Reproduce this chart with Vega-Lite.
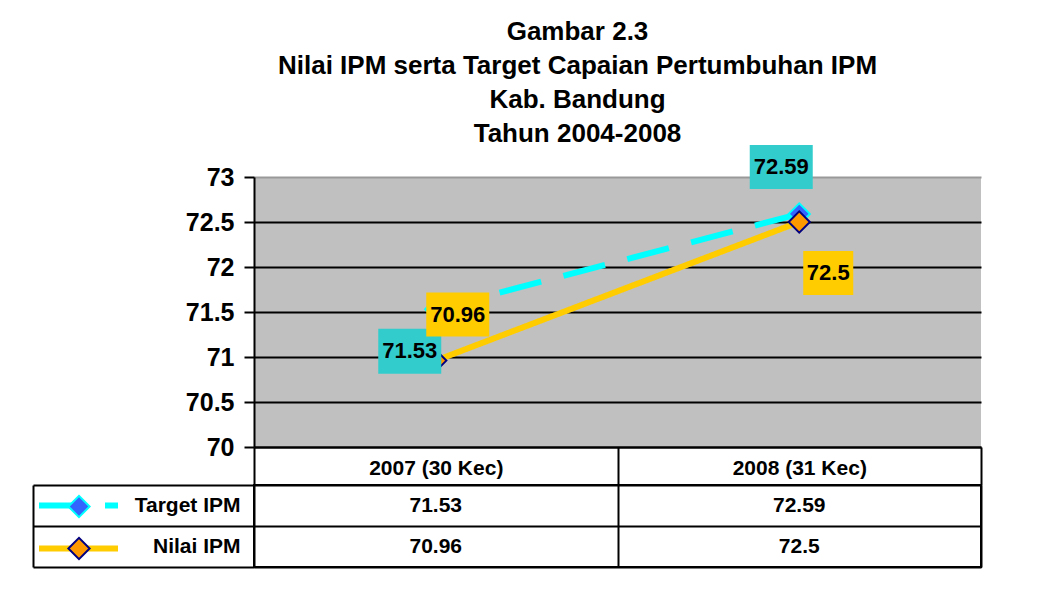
{
  "$schema": "https://vega.github.io/schema/vega-lite/v6.json",
  "background": "white",
  "autosize": {"type": "pad"},
  "padding": {"left": 31, "top": 18, "right": 5, "bottom": 5},
  "config": {"font": "Liberation Sans"},
  "title": {
    "text": ["Gambar 2.3", "Nilai IPM serta Target Capaian Pertumbuhan IPM", "Kab. Bandung", "Tahun 2004-2008"],
    "font": "Liberation Sans", "fontSize": 26, "fontWeight": "bold", "lineHeight": 34,
    "color": "black", "anchor": "middle", "frame": "group", "dx": -40, "offset": -2
  },
  "datasets": {
    "ipm": [
      {"tahun": "2007 (30 Kec)", "series": "Target IPM", "nilai": 71.53},
      {"tahun": "2008 (31 Kec)", "series": "Target IPM", "nilai": 72.59},
      {"tahun": "2007 (30 Kec)", "series": "Nilai IPM", "nilai": 70.96},
      {"tahun": "2008 (31 Kec)", "series": "Nilai IPM", "nilai": 72.5}
    ]
  },
  "bounds": "flush",
  "spacing": 38,
  "vconcat": [
    {
      "width": 727, "height": 270,
      "data": {"name": "ipm"},
      "view": {"fill": "#C0C0C0", "stroke": null},
      "encoding": {
        "x": {
          "field": "tahun", "type": "nominal",
          "scale": {"type": "band", "paddingInner": 0, "paddingOuter": 0},
          "axis": {
            "orient": "bottom", "title": null, "grid": false,
            "domain": true, "domainColor": "black", "domainWidth": 2,
            "ticks": true, "tickBand": "extent", "tickSize": 38, "tickColor": "black", "tickWidth": 2,
            "labelFont": "Liberation Sans", "labelFontSize": 21, "labelFontWeight": "bold", "labelColor": "black",
            "labelAngle": 0, "labelPadding": -17, "labelBaseline": "middle", "labelFlush": false
          }
        },
        "y": {
          "field": "nilai", "type": "quantitative",
          "scale": {"domain": [70, 73], "zero": false, "nice": false},
          "axis": {
            "title": null, "values": [70, 70.5, 71, 71.5, 72, 72.5, 73], "format": "~g",
            "grid": true, "gridWidth": 2, "gridOpacity": 1,
            "gridColor": {"condition": {"test": "datum.value === 73", "value": "#999999"}, "value": "black"},
            "domainColor": "black", "domainWidth": 2,
            "tickColor": "black", "tickWidth": 2, "tickSize": 10,
            "labelFont": "Liberation Sans", "labelFontSize": 25, "labelFontWeight": "bold", "labelColor": "black",
            "labelPadding": 10, "labelFlush": false
          }
        }
      },
      "layer": [
        {
          "mark": {"type": "line", "strokeWidth": 6},
          "encoding": {
            "color": {
              "field": "series", "type": "nominal",
              "scale": {"domain": ["Target IPM", "Nilai IPM"], "range": ["#00FFFF", "#FFCC00"]},
              "legend": {
                "orient": "none", "legendX": -183.5, "legendY": 320.5, "title": null, "padding": 0,
                "symbolType": "M-7.9,0H7.9", "symbolSize": 100, "symbolStrokeWidth": 6,
                "symbolFillColor": "transparent",
                "labelExpr": "''", "labelFontSize": 8, "rowPadding": 19
              }
            },
            "strokeDash": {
              "field": "series", "type": "nominal",
              "scale": {"domain": ["Target IPM", "Nilai IPM"], "range": [[43, 23], [1, 0]]},
              "legend": {
                "orient": "none", "legendX": -183.5, "legendY": 320.5, "title": null, "padding": 0,
                "symbolType": "M-7.9,0H7.9", "symbolSize": 100, "symbolStrokeWidth": 6,
                "labelExpr": "''", "labelFontSize": 8, "rowPadding": 19
              }
            }
          }
        },
        {
          "mark": {"type": "point", "shape": "diamond", "filled": true, "size": 450, "strokeWidth": 2, "opacity": 1},
          "encoding": {
            "fill": {
              "field": "series", "type": "nominal", "sort": "descending",
              "scale": {"range": ["#3366FF", "#FF9900"]},
              "legend": {
                "orient": "none", "legendX": -187, "legendY": 317.5, "title": null, "padding": 0,
                "symbolType": "diamond", "symbolSize": 450, "symbolStrokeWidth": 2, "symbolOpacity": 1,
                "labelExpr": "''", "labelFontSize": 8, "rowPadding": 12
              }
            },
            "stroke": {
              "field": "series", "type": "nominal", "sort": "descending",
              "scale": {"range": ["#00FFFF", "#000080"]},
              "legend": {
                "orient": "none", "legendX": -187, "legendY": 317.5, "title": null, "padding": 0,
                "symbolType": "diamond", "symbolSize": 450, "symbolStrokeWidth": 2, "symbolOpacity": 1,
                "labelExpr": "''", "labelFontSize": 8, "rowPadding": 12
              }
            }
          }
        },
        {
          "transform": [{"filter": "datum.series === 'Target IPM' && datum.tahun === '2007 (30 Kec)'"}],
          "layer": [
            {"mark": {"type": "point", "shape": "M-1,-0.714H1V0.714H-1Z", "size": 3969, "filled": true, "fill": "#33CCCC", "strokeWidth": 0, "opacity": 1, "xOffset": -26, "yOffset": 42}},
            {"mark": {"type": "text", "fontSize": 22, "fontWeight": "bold", "color": "black", "align": "center", "baseline": "middle", "xOffset": -26, "yOffset": 42}, "encoding": {"text": {"field": "nilai", "type": "quantitative"}}}
          ]
        },
        {
          "transform": [{"filter": "datum.series === 'Target IPM' && datum.tahun === '2008 (31 Kec)'"}],
          "layer": [
            {"mark": {"type": "point", "shape": "M-1,-0.698H1V0.698H-1Z", "size": 3969, "filled": true, "fill": "#33CCCC", "strokeWidth": 0, "opacity": 1, "xOffset": -18, "yOffset": -47}},
            {"mark": {"type": "text", "fontSize": 22, "fontWeight": "bold", "color": "black", "align": "center", "baseline": "middle", "xOffset": -18, "yOffset": -47}, "encoding": {"text": {"field": "nilai", "type": "quantitative"}}}
          ]
        },
        {
          "transform": [{"filter": "datum.series === 'Nilai IPM' && datum.tahun === '2007 (30 Kec)'"}],
          "layer": [
            {"mark": {"type": "point", "shape": "M-1,-0.698H1V0.698H-1Z", "size": 3969, "filled": true, "fill": "#FFCC00", "strokeWidth": 0, "opacity": 1, "xOffset": 22, "yOffset": -46}},
            {"mark": {"type": "text", "fontSize": 22, "fontWeight": "bold", "color": "black", "align": "center", "baseline": "middle", "xOffset": 22, "yOffset": -46}, "encoding": {"text": {"field": "nilai", "type": "quantitative"}}}
          ]
        },
        {
          "transform": [{"filter": "datum.series === 'Nilai IPM' && datum.tahun === '2008 (31 Kec)'"}],
          "layer": [
            {"mark": {"type": "point", "shape": "M-1,-0.88H1V0.88H-1Z", "size": 2500, "filled": true, "fill": "#FFCC00", "strokeWidth": 0, "opacity": 1, "xOffset": 29, "yOffset": 51}},
            {"mark": {"type": "text", "fontSize": 22, "fontWeight": "bold", "color": "black", "align": "center", "baseline": "middle", "xOffset": 29, "yOffset": 51}, "encoding": {"text": {"field": "nilai", "type": "quantitative"}}}
          ]
        }
      ]
    },
    {
      "width": 727, "height": 82,
      "data": {"name": "ipm"},
      "view": {"stroke": "black", "strokeWidth": 2, "fill": null},
      "mark": {"type": "text", "fontSize": 21, "fontWeight": "bold", "color": "black", "align": "center", "baseline": "middle"},
      "encoding": {
        "x": {
          "field": "tahun", "type": "nominal",
          "scale": {"type": "band", "paddingInner": 0, "paddingOuter": 0},
          "axis": {
            "title": null, "labels": false, "ticks": false, "domain": false,
            "grid": true, "tickBand": "extent", "gridColor": "black", "gridWidth": 2, "gridOpacity": 1
          }
        },
        "y": {
          "field": "series", "type": "nominal", "sort": ["Target IPM", "Nilai IPM"],
          "scale": {"type": "band", "paddingInner": 0, "paddingOuter": 0},
          "axis": {
            "title": null, "offset": 221,
            "domain": true, "domainColor": "black", "domainWidth": 2,
            "ticks": true, "tickBand": "extent", "tickSize": -221, "tickColor": "black", "tickWidth": 2,
            "grid": true, "gridColor": "black", "gridWidth": 2, "gridOpacity": 1,
            "labelFont": "Liberation Sans", "labelFontSize": 21, "labelFontWeight": "bold", "labelColor": "black",
            "labelPadding": 14, "labelAlign": "right"
          }
        },
        "text": {"field": "nilai", "type": "quantitative"}
      }
    }
  ]
}
